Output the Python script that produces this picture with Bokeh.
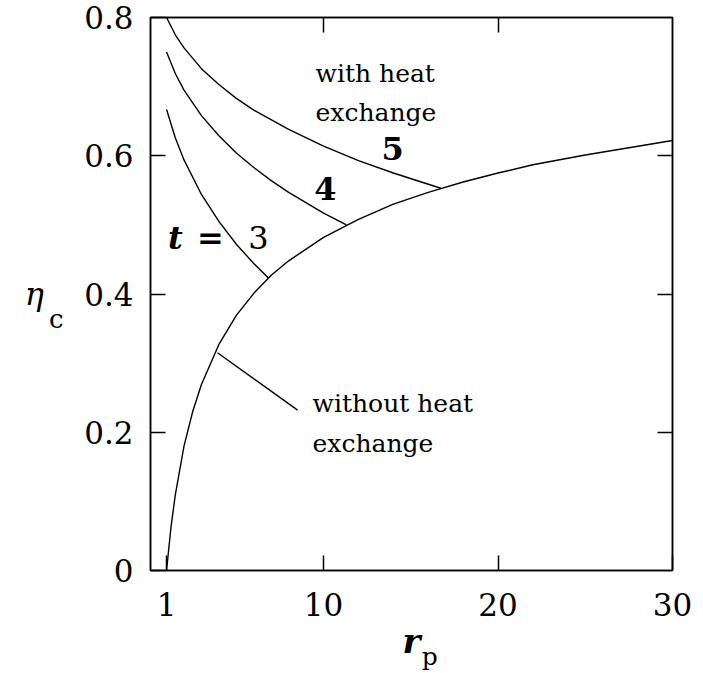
from bokeh.plotting import figure
from bokeh.models import Range1d, FixedTicker, LinearAxis, Label
from bokeh.embed import file_html
from bokeh.resources import INLINE

# Brayton cycle efficiency versus pressure ratio r_p
# Without heat exchange
rp_plain = [1, 1.25, 1.5, 2, 2.5, 3, 4, 5, 6, 7, 8, 10, 12, 14, 16, 18, 20, 22, 25, 30]
eta_plain = [0.0, 0.062, 0.109, 0.180, 0.230, 0.269, 0.327, 0.369, 0.401, 0.427,
             0.448, 0.482, 0.508, 0.530, 0.547, 0.562, 0.575, 0.587, 0.601, 0.622]

# With heat exchange, temperature ratio t = 3, 4, 5
rp_t3 = [1, 1.5, 2, 3, 4, 5, 6, 6.84]
eta_t3 = [0.667, 0.626, 0.594, 0.544, 0.505, 0.472, 0.444, 0.423]

rp_t4 = [1, 1.5, 2, 3, 4, 5, 6, 7, 8, 10, 11.31]
eta_t4 = [0.750, 0.719, 0.695, 0.658, 0.629, 0.604, 0.583, 0.564, 0.547, 0.517, 0.500]

rp_t5 = [1, 1.5, 2, 3, 4, 5, 6, 8, 10, 12, 14, 16.72]
eta_t5 = [0.800, 0.775, 0.756, 0.726, 0.703, 0.683, 0.666, 0.638, 0.614, 0.593, 0.575, 0.553]

# Pointer from the "without heat exchange" note to its curve
pointer_rp = [3.92, 8.51]
pointer_eta = [0.315, 0.232]

x_ticks = [1, 10, 20, 30]
y_ticks = [0, 0.2, 0.4, 0.6, 0.8]
y_tick_labels = {0: "0", 0.2: "0.2", 0.4: "0.4", 0.6: "0.6", 0.8: "0.8"}

# subscripts of the axis titles sit on extra label-only axes
eta_sub_pos = 0.364
rp_sub_pos = 16.08

SERIF = "DejaVu Serif"

p = figure(width=703, height=673, x_range=Range1d(0.08, 30), y_range=Range1d(0, 0.8),
           output_backend="svg", toolbar_location=None,
           min_border_left=150, min_border_right=31, min_border_top=17, min_border_bottom=103)
p.grid.visible = False
p.outline_line_color = "black"
p.outline_line_width = 1.5
p.background_fill_color = "white"
p.border_fill_color = "white"

for xs, ys in [(rp_plain, eta_plain), (rp_t3, eta_t3), (rp_t4, eta_t4),
               (rp_t5, eta_t5), (pointer_rp, pointer_eta)]:
    p.line(xs, ys, line_color="black", line_width=1.4)

# bottom and left axes carry the labels, ticks point inward
xa = p.xaxis[0]
xa.ticker = FixedTicker(ticks=x_ticks)
ya = p.yaxis[0]
ya.ticker = FixedTicker(ticks=y_ticks)
ya.major_label_overrides = y_tick_labels
for ax in (xa, ya):
    ax.major_tick_in = 15
    ax.major_tick_out = 0
    ax.minor_tick_in = 0
    ax.minor_tick_out = 0
    ax.axis_line_color = "black"
    ax.axis_line_width = 1.5
    ax.major_tick_line_width = 1.5
    ax.major_label_text_font = SERIF
    ax.major_label_text_font_size = "31px"
    ax.major_label_text_color = "black"
xa.major_label_standoff = 22
ya.major_label_standoff = 17

xa.axis_label = "r"
xa.axis_label_text_font = SERIF
xa.axis_label_text_font_size = "34px"
xa.axis_label_text_font_style = "bold italic"
xa.axis_label_text_color = "black"
xa.axis_label_standoff = 2

# top and right axes: inward ticks only, blank labels
top = LinearAxis(ticker=FixedTicker(ticks=[10, 20]),
                 major_label_overrides={10: "", 20: ""})
right = LinearAxis(ticker=FixedTicker(ticks=[0.2, 0.4, 0.6]),
                   major_label_overrides={0.2: "", 0.4: "", 0.6: ""})
for ax in (top, right):
    ax.major_tick_in = 15
    ax.major_tick_out = 0
    ax.minor_tick_in = 0
    ax.minor_tick_out = 0
    ax.major_tick_line_width = 1.5
    ax.axis_line_width = 1.5
    ax.major_label_text_font_size = "10px"
    ax.major_label_standoff = 0
p.add_layout(top, "above")
p.add_layout(right, "right")

# label-only axes for the title subscripts
eta_axis = LinearAxis(ticker=FixedTicker(ticks=[eta_sub_pos]),
                      major_label_overrides={eta_sub_pos: "c"})
rp_axis = LinearAxis(ticker=FixedTicker(ticks=[rp_sub_pos]),
                     major_label_overrides={rp_sub_pos: "p"})
for ax in (eta_axis, rp_axis):
    ax.axis_line_color = None
    ax.major_tick_line_color = None
    ax.minor_tick_line_color = None
    ax.major_tick_in = 0
    ax.major_tick_out = 0
    ax.minor_tick_in = 0
    ax.minor_tick_out = 0
    ax.major_label_text_font = SERIF
    ax.major_label_text_color = "black"
eta_axis.major_label_text_font_size = "26px"
eta_axis.major_label_standoff = 18
eta_axis.axis_label = "η"
eta_axis.axis_label_orientation = "horizontal"
eta_axis.axis_label_text_font = SERIF
eta_axis.axis_label_text_font_size = "32px"
eta_axis.axis_label_text_font_style = "italic"
eta_axis.axis_label_text_color = "black"
eta_axis.axis_label_standoff = 2
rp_axis.major_label_text_font_size = "25px"
rp_axis.major_label_standoff = -22
p.add_layout(eta_axis, "left")
p.add_layout(rp_axis, "below")


def note(x, y, text, size="25px", style="normal", align="left", baseline="alphabetic"):
    p.add_layout(Label(x=x, y=y, text=text, text_font=SERIF, text_font_size=size,
                       text_font_style=style, text_align=align, text_baseline=baseline,
                       text_color="black"))


note(9.54, 0.719, "with heat")
note(9.54, 0.6626, "exchange")
note(9.37, 0.2416, "without heat")
note(9.37, 0.1837, "exchange")

note(13.96, 0.6105, "5", size="32px", style="bold", align="center", baseline="middle")
note(10.11, 0.5526, "4", size="32px", style="bold", align="center", baseline="middle")
note(6.27, 0.4817, "3", size="32px", align="center", baseline="middle")
note(1.51, 0.4817, "t", size="32px", style="bold italic", align="center", baseline="middle")
note(3.52, 0.4817, "=", size="32px", style="bold", align="center", baseline="middle")

open("out.html", "w").write(file_html(p, INLINE))
